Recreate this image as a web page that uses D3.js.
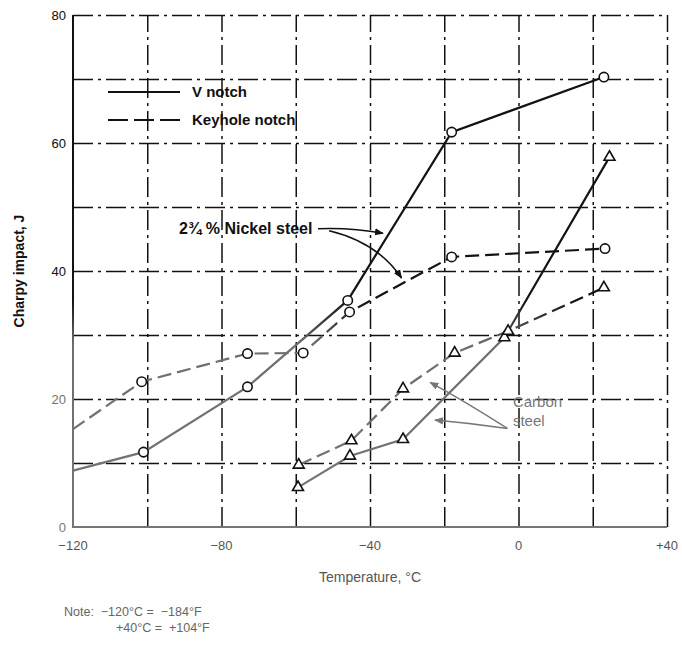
<!DOCTYPE html>
<html lang="en">
<head>
    <meta charset="UTF-8">
    <title>Charpy impact vs temperature</title>
    <style type="text/css">
        body { margin: 0; background: #fff; }
        svg { display: block; font-family: "Liberation Sans", Arial, sans-serif; }
        .grid line { stroke-dasharray: 20, 5, 3, 5; stroke-width: 1.5; }
        .grid path { display: none; }
        .tick-label { font-size: 13px; }
    </style>
</head>
<body>
<script src="https://cdn.jsdelivr.net/npm/d3@7"></script>
<script>
    // canvas size
    var width = 682,
        height = 648
    var padding = { top: 15, right: 15, bottom: 121, left: 73 }

    // data (temperature in °C, energy in J)
    var nickelVTemp = [-120, -101, -73, -46, -18, 23]
    var nickelV = [8.8, 11.7, 21.9, 35.4, 61.7, 70.3]
    var nickelKeyTemp = [-120, -101.5, -73, -58, -45.5, -18, 23.3]
    var nickelKey = [15.3, 22.7, 27.1, 27.2, 33.6, 42.2, 43.5]
    var carbonVTemp = [-59.4, -45.4, -31.1, -3.8, 24.5]
    var carbonV = [6.2, 11.1, 13.7, 29.6, 57.8]
    var carbonKeyTemp = [-59.2, -45, -31.1, -17.2, -2.8, 23]
    var carbonKey = [9.7, 13.5, 21.6, 27.2, 30.6, 37.4]

    var xTicks = [-120, -80, -40, 0, 40]
    var xTickLabels = ['\u2212120', '\u221280', '\u221240', '0', '+40']
    var yTicks = [0, 20, 40, 60, 80]
    var yTickLabels = ['0', '20', '40', '60', '80']
    var xGrid = [-100, -80, -60, -40, -20, 0, 20]
    var yGrid = [10, 20, 30, 40, 50, 60, 70]

    var svg = d3.select('body')
        .append('svg')
        .attr('width', width)
        .attr('height', height)

    // the scan fades to grey in the lower half, so ink is a vertical gradient
    var grad = svg.append('defs').append('linearGradient')
        .attr('id', 'ink')
        .attr('gradientUnits', 'userSpaceOnUse')
        .attr('x1', 0).attr('y1', 0).attr('x2', 0).attr('y2', height)
    grad.append('stop').attr('offset', 0).attr('stop-color', '#111')
    grad.append('stop').attr('offset', 300 / height).attr('stop-color', '#141414')
    grad.append('stop').attr('offset', 345 / height).attr('stop-color', '#6e6e6e')
    grad.append('stop').attr('offset', 1).attr('stop-color', '#7a7a7a')

    var defs = svg.select('defs')
    defs.append('marker')
        .attr('id', 'arrow')
        .attr('viewBox', '0 0 10 10')
        .attr('refX', 9).attr('refY', 5)
        .attr('markerWidth', 9).attr('markerHeight', 9)
        .attr('markerUnits', 'userSpaceOnUse')
        .attr('orient', 'auto')
        .append('path')
        .attr('d', 'M0,1 L10,5 L0,9 z')
        .attr('fill', 'context-stroke')

    var xScale = d3.scaleLinear()
        .domain([-120, 40])
        .range([padding.left, width - padding.right])
    var yScale = d3.scaleLinear()
        .domain([0, 80])
        .range([height - padding.bottom, padding.top])

    var plotW = width - padding.left - padding.right
    var plotH = height - padding.top - padding.bottom

    // dash-dot grid
    svg.append('g')
        .attr('class', 'grid')
        .attr('transform', 'translate(' + padding.left + ',0)')
        .call(d3.axisLeft(yScale).tickValues(yGrid.concat([80])).tickSize(-plotW).tickFormat(''))
        .selectAll('line').attr('stroke', 'url(#ink)')
    svg.append('g')
        .attr('class', 'grid')
        .attr('transform', 'translate(0,' + (height - padding.bottom) + ')')
        .call(d3.axisBottom(xScale).tickValues(xGrid.concat([40])).tickSize(-plotH).tickFormat(''))
        .selectAll('line').attr('stroke', 'url(#ink)')

    // solid left and bottom frame
    svg.append('path')
        .attr('d', 'M' + xScale(-120) + ',' + yScale(80) + 'V' + yScale(0) + 'H' + xScale(40))
        .attr('fill', 'none')
        .attr('stroke', 'url(#ink)')
        .attr('stroke-width', 2)

    // tick labels
    svg.selectAll('.xLabel')
        .data(xTicks)
        .enter()
        .append('text')
        .attr('class', 'tick-label')
        .attr('x', function (d) { return xScale(d) })
        .attr('y', yScale(0) + 23)
        .attr('text-anchor', 'middle')
        .attr('fill', '#555')
        .text(function (d, i) { return xTickLabels[i] })
    svg.selectAll('.yLabel')
        .data(yTicks)
        .enter()
        .append('text')
        .attr('class', 'tick-label')
        .attr('x', padding.left - 7)
        .attr('y', function (d) { return yScale(d) })
        .attr('dy', '0.35em')
        .attr('text-anchor', 'end')
        .attr('fill', 'url(#ink)')
        .text(function (d, i) { return yTickLabels[i] })

    // axis titles
    svg.append('text')
        .attr('transform', 'translate(24,' + yScale(40) + ') rotate(-90)')
        .attr('text-anchor', 'middle')
        .attr('font-size', 14)
        .attr('font-weight', 'bold')
        .attr('fill', '#111')
        .text('Charpy impact, J')
    svg.append('text')
        .attr('x', (xScale(-120) + xScale(40)) / 2)
        .attr('y', 582)
        .attr('text-anchor', 'middle')
        .attr('font-size', 14)
        .attr('fill', '#555')
        .text('Temperature, \u00b0C')

    // note under the chart
    svg.append('text')
        .attr('x', 64).attr('y', 616)
        .attr('font-size', 12.5).attr('fill', '#666')
        .attr('xml:space', 'preserve')
        .text('Note:  \u2212120\u00b0C =  \u2212184\u00b0F')
    svg.append('text')
        .attr('x', 116).attr('y', 632)
        .attr('font-size', 12.5).attr('fill', '#666')
        .attr('xml:space', 'preserve')
        .text('+40\u00b0C =  +104\u00b0F')

    // series
    var series = [
        { temp: nickelVTemp, val: nickelV, dash: null, shape: 'circle', skipFirst: true },
        { temp: nickelKeyTemp, val: nickelKey, dash: '14,6', shape: 'circle', skipFirst: true },
        { temp: carbonVTemp, val: carbonV, dash: null, shape: 'triangle', skipFirst: false },
        { temp: carbonKeyTemp, val: carbonKey, dash: '14,6', shape: 'triangle', skipFirst: false }
    ]

    var line = d3.line()
        .x(function (d) { return xScale(d[0]) })
        .y(function (d) { return yScale(d[1]) })

    series.forEach(function (s) {
        var pts = s.temp.map(function (t, i) { return [t, s.val[i]] })
        svg.append('path')
            .datum(pts)
            .attr('d', line)
            .attr('fill', 'none')
            .attr('stroke', 'url(#ink)')
            .attr('stroke-width', 2.2)
            .attr('stroke-dasharray', s.dash)
        var mk = pts.filter(function (d, i) { return !(s.skipFirst && i === 0) })
        var sym = d3.symbol()
            .type(s.shape === 'circle' ? d3.symbolCircle : d3.symbolTriangle)
            .size(s.shape === 'circle' ? 70 : 52)
        svg.selectAll(null)
            .data(mk)
            .enter()
            .append('path')
            .attr('d', sym)
            .attr('transform', function (d) { return 'translate(' + xScale(d[0]) + ',' + yScale(d[1]) + ')' })
            .attr('fill', '#fff')
            .attr('stroke', 'url(#ink)')
            .attr('stroke-width', 1.6)
    })

    // legend
    var legend = svg.append('g').attr('font-size', 15).attr('font-weight', 'bold').attr('fill', '#111')
    legend.append('line')
        .attr('x1', 108).attr('x2', 180).attr('y1', 92).attr('y2', 92)
        .attr('stroke', '#111').attr('stroke-width', 2.2)
    legend.append('text').attr('x', 192).attr('y', 92).attr('dy', '0.35em').text('V notch')
    legend.append('line')
        .attr('x1', 108).attr('x2', 180).attr('y1', 120).attr('y2', 120)
        .attr('stroke', '#111').attr('stroke-width', 2.2)
        .attr('stroke-dasharray', '20,6')
    legend.append('text').attr('x', 192).attr('y', 120).attr('dy', '0.35em').text('Keyhole notch')

    // annotation labels with curved arrows (anchors in data units)
    svg.append('text')
        .attr('x', xScale(-55.5)).attr('y', yScale(46.6))
        .attr('dy', '0.35em')
        .attr('text-anchor', 'end')
        .attr('font-size', 16).attr('font-weight', 'bold').attr('fill', '#111')
        .text('2\u00be % Nickel steel')
    var arrows = [
        { from: [-54, 46.6], ctrl: [-45, 46.8], to: [-36.5, 45.9] },
        { from: [-51, 46.3], ctrl: [-38, 44.5], to: [-31.5, 38.9] },
        { from: [-3, 15.4], ctrl: [-14, 19.5], to: [-23.8, 22.6] },
        { from: [-3, 15.4], ctrl: [-13, 16.2], to: [-22.5, 16.7] }
    ]
    svg.selectAll('.arrow')
        .data(arrows)
        .enter()
        .append('path')
        .attr('d', function (a) {
            return 'M' + xScale(a.from[0]) + ',' + yScale(a.from[1]) +
                'Q' + xScale(a.ctrl[0]) + ',' + yScale(a.ctrl[1]) +
                ' ' + xScale(a.to[0]) + ',' + yScale(a.to[1])
        })
        .attr('fill', 'none')
        .attr('stroke', function (a, i) { return i < 2 ? '#111' : '#777' })
        .attr('stroke-width', 1.5)
        .attr('marker-end', 'url(#arrow)')
    var carbon = svg.append('text')
        .attr('x', xScale(-1.5)).attr('y', yScale(18.7))
        .attr('font-size', 15).attr('fill', '#777')
    carbon.append('tspan').text('Carbon')
    carbon.append('tspan').attr('x', xScale(-1.5)).attr('dy', 19).text('steel')
</script>
</body>
</html>
